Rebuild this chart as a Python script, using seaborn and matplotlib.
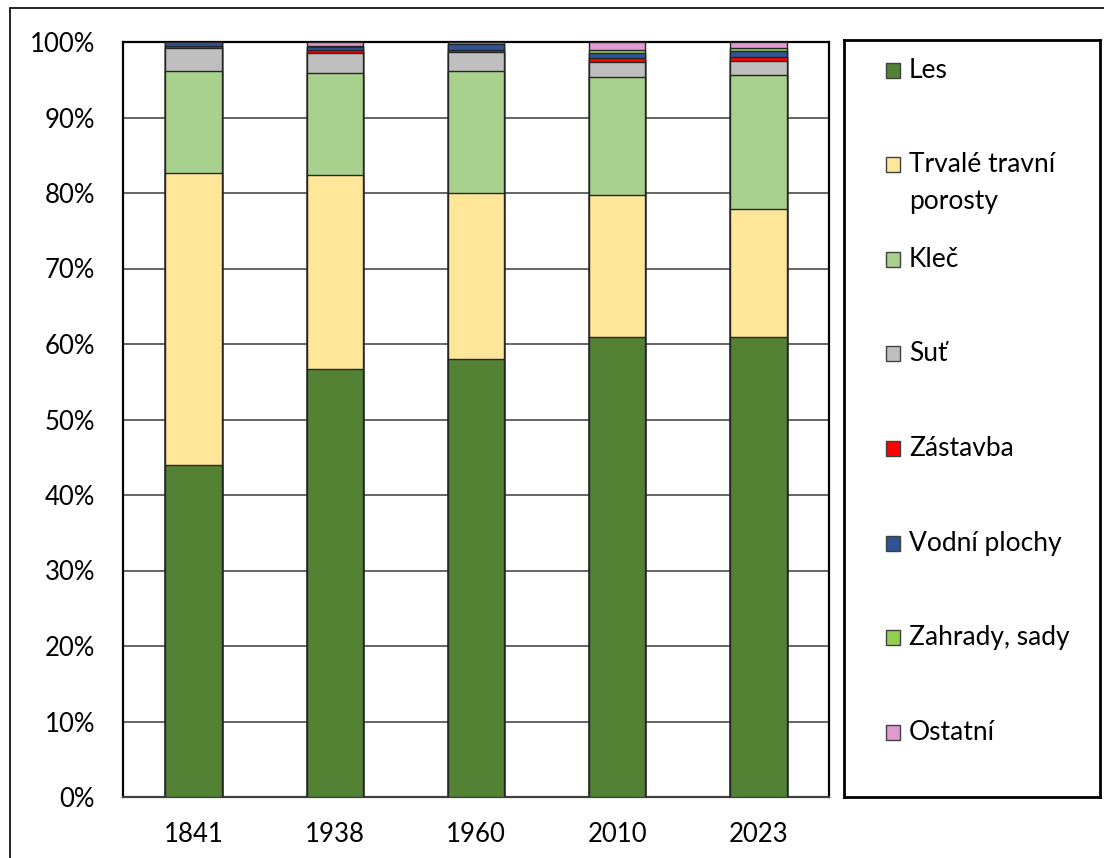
import numpy as np
import pandas as pd
import matplotlib
matplotlib.use("Agg")
import matplotlib.pyplot as plt
import seaborn as sns
from matplotlib.patches import Rectangle
from matplotlib.lines import Line2D

# Land-cover shares (%) per year
years = ["1841", "1938", "1960", "2010", "2023"]
categories = ["Les", "Trvalé travní\nporosty", "Kleč", "Suť", "Zástavba",
              "Vodní plochy", "Zahrady, sady", "Ostatní"]
les = [44.0, 56.7, 58.0, 60.9, 60.9]
trvale_travni_porosty = [38.6, 25.7, 22.0, 18.9, 17.0]
klec = [13.6, 13.5, 16.2, 15.6, 17.7]
sut = [3.0, 2.6, 2.5, 2.0, 1.9]
zastavba = [0.25, 0.5, 0.3, 0.5, 0.5]
vodni_plochy = [0.5, 0.4, 0.7, 0.7, 0.8]
zahrady_sady = [0.0, 0.1, 0.1, 0.3, 0.4]
ostatni = [0.05, 0.5, 0.2, 1.1, 0.8]
yticks = [0, 10, 20, 30, 40, 50, 60, 70, 80, 90, 100]

colors = ["#548235", "#FFE699", "#A9D18E", "#BFBFBF", "#FF0000",
          "#2F5597", "#92D050", "#E29AD2"]

series = [les, trvale_travni_porosty, klec, sut, zastavba,
          vodni_plochy, zahrady_sady, ostatni]
df = pd.DataFrame(np.array(series).T, index=years, columns=categories)
cum = df.cumsum(axis=1)

sns.set_theme(style="white")
plt.rcParams["font.family"] = ["Lato", "DejaVu Sans"]

W, H = 1104, 858
fig = plt.figure(figsize=(W / 100, H / 100), dpi=100)

ax = fig.add_axes([123 / W, 1 - 797 / H, (829 - 123) / W, (797 - 42) / H])

# stacked bars: draw cumulative totals from the top layer down
for col, c in reversed(list(zip(categories, colors))):
    sns.barplot(x=cum.index, y=cum[col].values, color=c, width=0.4,
                edgecolor="#262626", linewidth=1.0, saturation=1,
                order=years, ax=ax, zorder=3)

ax.set_xlim(-0.5, 4.5)
ax.set_ylim(0, 100)
ax.set_yticks(yticks)
ax.set_yticklabels([f"{v}%" for v in yticks])
ax.set_xlabel("")
ax.set_ylabel("")
ax.yaxis.grid(True, color="#595959", linewidth=1.3, zorder=0)
ax.xaxis.grid(False)
ax.set_axisbelow(True)
ax.tick_params(axis="y", length=0, pad=20, labelsize=18.5, colors="black")
ax.tick_params(axis="x", length=0, pad=18, labelsize=18.5, colors="black")
for s in ax.spines.values():
    s.set_color("black")
    s.set_linewidth(1.6)
ax.spines["bottom"].set_color("#404040")

# legend panel
lax = fig.add_axes([844 / W, 1 - 797 / H, (1100 - 844) / W, (797 - 40) / H])
lax.set_xlim(844, 1100)
lax.set_ylim(797, 40)
lax.set_xticks([])
lax.set_yticks([])
for s in lax.spines.values():
    s.set_color("black")
    s.set_linewidth(2.0)

for i, (lab, c) in enumerate(zip(categories, colors)):
    yc = 70 + i * 94.6
    lax.add_patch(Rectangle((886, yc - 7.5), 14, 15, facecolor=c,
                            edgecolor="#404040", linewidth=1.0))
    for j, line in enumerate(lab.split("\n")):
        lax.text(909, yc + j * 37, line, fontsize=19, va="center",
                 ha="left", color="black")

# outer frame
fig.add_artist(Line2D([10 / W, 10 / W], [0, 1 - 8 / H], color="black",
                      linewidth=1.2, transform=fig.transFigure))
fig.add_artist(Line2D([10 / W, 1], [1 - 8 / H, 1 - 8 / H], color="black",
                      linewidth=1.2, transform=fig.transFigure))

fig.savefig("out.png", dpi=100, facecolor="white")
